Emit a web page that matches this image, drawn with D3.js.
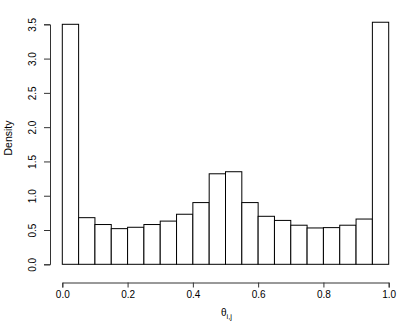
<!DOCTYPE html>
<html>
<head>
<meta charset="utf-8">
<script src="https://cdn.jsdelivr.net/npm/d3@7"></script>
<style>
  body { margin: 0; background: #fff; }
  text, tspan { font-family: "Liberation Sans", Arial, Helvetica, sans-serif; fill: #000; }
</style>
</head>
<body>
<div class="chart"></div>
<script>
// histogram bins (left edges) and densities
const binStarts = [0.00, 0.05, 0.10, 0.15, 0.20, 0.25, 0.30, 0.35, 0.40, 0.45,
                   0.50, 0.55, 0.60, 0.65, 0.70, 0.75, 0.80, 0.85, 0.90, 0.95]
const density = [3.50, 0.68, 0.58, 0.52, 0.54, 0.58, 0.63, 0.73, 0.90, 1.32,
                 1.35, 0.90, 0.70, 0.64, 0.57, 0.53, 0.535, 0.57, 0.66, 3.53]
const binWidth = 0.05
const xTicks = [0, 0.2, 0.4, 0.6, 0.8, 1.0]
const yTicks = [0, 0.5, 1, 1.5, 2, 2.5, 3, 3.5]

const width = 415
const height = 324

const data = binStarts.map((b, i) => ({x0: b, x1: b + binWidth, d: density[i]}))

const svg = d3.select(".chart").append("svg")
    .attr("width", width)
    .attr("height", height)

const x = d3.scaleLinear()
    .domain([0, 1])
    .range([62.3, 388.7])

const y = d3.scaleLinear()
    .domain([0, 3.5])
    .range([264.3, 24.3])

// bars
svg.selectAll(".bar")
    .data(data)
    .join("rect")
        .attr("class", "bar")
        .attr("x", d => x(d.x0))
        .attr("y", d => y(d.d))
        .attr("width", d => x(d.x1) - x(d.x0))
        .attr("height", d => y(0) - y(d.d))
        .attr("fill", "white")
        .attr("stroke", "black")
        .attr("stroke-width", 1)

// x axis, R style (offset below plot)
const xAxis = d3.axisBottom(x)
    .tickValues(xTicks)
    .tickFormat(d3.format(".1f"))
    .tickSizeOuter(0)
    .tickSize(5)
    .tickPadding(3)

svg.append("g")
    .attr("class", "x-axis")
    .attr("transform", "translate(0, 282.5)")
    .call(xAxis)
    .call(g => g.selectAll("text").style("font-size", "10px").attr("fill", "#000"))
    .call(g => g.selectAll("line, path").attr("stroke", "#333"))

const yAxis = d3.axisLeft(y)
    .tickValues(yTicks)
    .tickFormat(d3.format(".1f"))
    .tickSizeOuter(0)
    .tickSize(6)
    .tickPadding(4)

svg.append("g")
    .attr("class", "y-axis")
    .attr("transform", "translate(50, 0)")
    .call(yAxis)
    .call(g => g.selectAll("line, path").attr("stroke", "#333"))
    .call(g => g.selectAll("text")
        .style("font-size", "10px")
        .attr("fill", "#000")
        .attr("text-anchor", "middle")
        .attr("x", null)
        .attr("transform", "translate(-18, 0) rotate(-90)")
        .attr("dy", "0.35em"))

// axis titles
svg.append("text")
    .attr("transform", "translate(12, 138) rotate(-90)")
    .attr("text-anchor", "middle")
    .style("font-size", "10.5px")
    .text("Density")

const xt = svg.append("text")
    .attr("x", 221)
    .attr("y", 316)
    .style("font-size", "10px")
xt.append("tspan").attr("fill", "#000").text("θ")
xt.append("tspan")
    .attr("dy", 2.5)
    .attr("fill", "#000")
    .style("font-size", "7.5px")
    .text("i,j")
</script>
</body>
</html>
